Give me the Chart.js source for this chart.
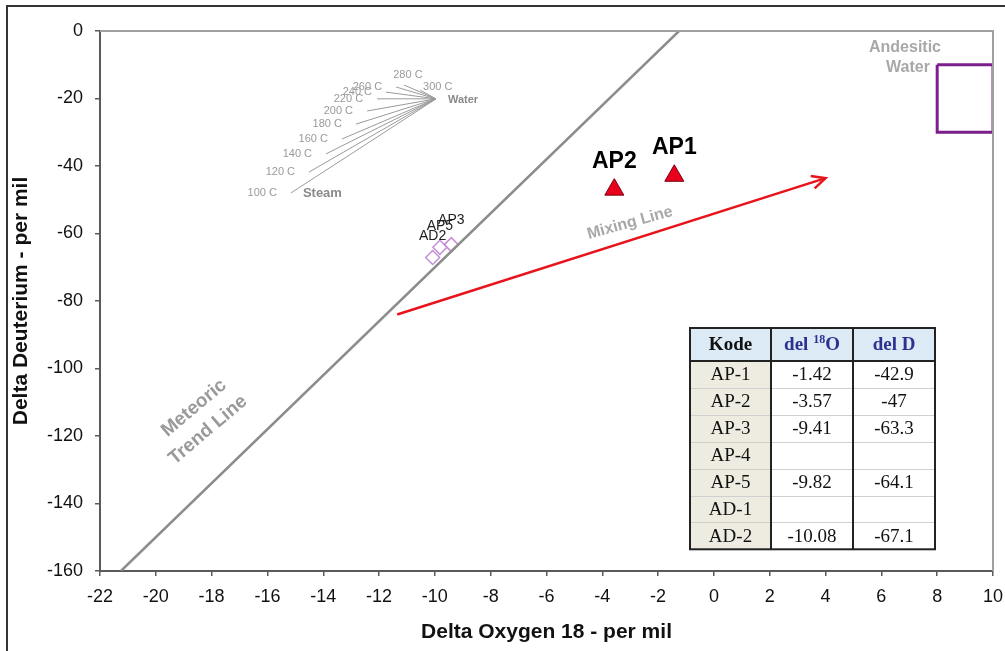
<!DOCTYPE html>
<html>
<head>
<meta charset="utf-8">
<script src="https://cdn.jsdelivr.net/npm/chart.js@4.4.1/dist/chart.umd.min.js"></script>
<style>
  html, body { margin: 0; padding: 0; background: #fff; }
  #wrap { width: 1005px; height: 651px; position: relative; }
</style>
</head>
<body>
<div id="wrap"><canvas id="myChart"></canvas></div>
<script>
const ctx = document.getElementById('myChart');

// samples
const sampleNames = ['AP1', 'AP2'];
const sampleO18 = [-1.42, -3.57];
const sampleD = [-42.9, -47];

const nearNames = ['AP3', 'AP5', 'AD2'];
const nearO18 = [-9.41, -9.82, -10.08];
const nearD = [-63.3, -64.1, -67.1];

// reference lines
const meteoricO18 = [-21.25, -1.25];
const meteoricD = [-160, 0];

const mixingO18 = [-11.35, 4.0];
const mixingD = [-84.0, -43.6];

const andesiticO18 = [8, 10, 10, 8, 8];
const andesiticD = [-10, -10, -30, -30, -10];

// steam / water separation fan
const waterO18 = -9.96;
const waterD = -20.1;
const steamTemps = ['100 C', '120 C', '140 C', '160 C', '180 C', '200 C', '220 C', '240 C', '260 C', '280 C', '300 C'];
const steamO18 = [-15.16, -14.51, -13.90, -13.33, -12.83, -12.43, -12.07, -11.75, -11.39, -11.11, -10.53];
const steamD = [-48.0, -41.8, -36.4, -32.0, -27.6, -23.7, -20.1, -18.1, -16.6, -16.0, -17.5];

// table
const tableHead = ['Kode', 'del 18O', 'del D'];
const tableCodes = ['AP-1', 'AP-2', 'AP-3', 'AP-4', 'AP-5', 'AD-1', 'AD-2'];
const tableO18 = ['-1.42', '-3.57', '-9.41', '', '-9.82', '', '-10.08'];
const tableD = ['-42.9', '-47', '-63.3', '', '-64.1', '', '-67.1'];

const SANS = '"Liberation Sans", Arial, sans-serif';
const SERIF = '"Liberation Serif", "Times New Roman", serif';

function pts(xs, ys) {
  return xs.map((v, i) => ({ x: v, y: ys[i] }));
}

// label offsets for the fan (px), kept apart from the data
const steamLabelPos = steamTemps.map((t, i) => {
  if (i === 9) return { dx: 4, dy: -10, align: 'center' };
  if (i === 10) return { dx: 3, dy: -3, align: 'left' };
  return { dx: -14, dy: 0, align: 'right' };
});

const steamSets = steamO18.map((v, i) => ({
  data: [{ x: v, y: steamD[i] }, { x: waterO18, y: waterD }],
  showLine: true,
  borderColor: '#9a9a9a',
  borderWidth: 1,
  pointRadius: 0
}));

function text(c, s, x, y, font, color, align, rot) {
  c.save();
  c.translate(x, y);
  if (rot) c.rotate(rot);
  c.font = font;
  c.fillStyle = color;
  c.textAlign = align || 'center';
  c.textBaseline = 'middle';
  c.fillText(s, 0, 0);
  c.restore();
}

const extras = {
  id: 'extras',
  afterDatasetsDraw(chart) {
    const c = chart.ctx;
    const { x, y } = chart.scales;
    const a = chart.chartArea;
    c.save();

    // top / right frame of plot
    c.strokeStyle = '#a0a0a0';
    c.lineWidth = 2;
    c.beginPath();
    c.moveTo(a.left, a.top);
    c.lineTo(a.right, a.top);
    c.lineTo(a.right, a.bottom);
    c.stroke();

    // arrow head on mixing line
    const x0 = x.getPixelForValue(mixingO18[0]), y0 = y.getPixelForValue(mixingD[0]);
    const x1 = x.getPixelForValue(mixingO18[1]), y1 = y.getPixelForValue(mixingD[1]);
    const ang = Math.atan2(y1 - y0, x1 - x0);
    c.strokeStyle = '#e8141c';
    c.lineWidth = 2.5;
    c.beginPath();
    c.moveTo(x1 - 15 * Math.cos(ang - 0.45), y1 - 15 * Math.sin(ang - 0.45));
    c.lineTo(x1, y1);
    c.lineTo(x1 - 15 * Math.cos(ang + 0.45), y1 - 15 * Math.sin(ang + 0.45));
    c.stroke();

    // fan labels
    steamTemps.forEach((t, i) => {
      const p = steamLabelPos[i];
      text(c, t, x.getPixelForValue(steamO18[i]) + p.dx, y.getPixelForValue(steamD[i]) + p.dy,
        '11px ' + SANS, '#9a9a9a', p.align);
    });
    text(c, 'Water', x.getPixelForValue(waterO18) + 12, y.getPixelForValue(waterD) + 1,
      'bold 11px ' + SANS, '#8a8a8a', 'left');
    text(c, 'Steam', x.getPixelForValue(steamO18[0]) + 12, y.getPixelForValue(steamD[0]),
      'bold 13px ' + SANS, '#8a8a8a', 'left');

    // sample labels
    sampleNames.forEach((n, i) => {
      text(c, n, x.getPixelForValue(sampleO18[i]), y.getPixelForValue(sampleD[i]) - 28,
        'bold 23px ' + SANS, '#000', 'center');
    });
    nearNames.forEach((n, i) => {
      text(c, n, x.getPixelForValue(nearO18[i]), y.getPixelForValue(nearD[i]) - (i === 0 ? 24 : 21),
        '14px ' + SANS, '#222', 'center');
    });

    // line captions
    text(c, 'Mixing Line', 630, 223, 'bold 16px ' + SANS, '#a8a8a8', 'center', -0.27);
    text(c, 'Meteoric', 194, 408, 'bold 19px ' + SANS, '#9a9a9a', 'center', -0.7);
    text(c, 'Trend Line', 208, 430, 'bold 19px ' + SANS, '#9a9a9a', 'center', -0.7);
    text(c, 'Andesitic', 905, 48, 'bold 16px ' + SANS, '#a8a8a8', 'center');
    text(c, 'Water', 908, 68, 'bold 16px ' + SANS, '#a8a8a8', 'center');

    // data table
    const tl = 690, tt = 328, cw = [81, 82, 82], hh = 33, rh = 26.9;
    const tw = cw[0] + cw[1] + cw[2];
    const th = hh + rh * tableCodes.length;
    c.fillStyle = '#fff';
    c.fillRect(tl, tt, tw, th);
    c.fillStyle = '#dbeaf4';
    c.fillRect(tl, tt, tw, hh);
    c.fillStyle = '#eeebe1';
    c.fillRect(tl, tt + hh, cw[0], th - hh);
    c.strokeStyle = '#d0d0d0';
    c.lineWidth = 1;
    for (let r = 1; r < tableCodes.length; r++) {
      const yy = Math.round(tt + hh + rh * r) + 0.5;
      c.beginPath();
      c.moveTo(tl, yy);
      c.lineTo(tl + tw, yy);
      c.stroke();
    }
    c.strokeStyle = '#222';
    c.lineWidth = 2;
    c.strokeRect(tl, tt, tw, th);
    c.beginPath();
    c.moveTo(tl, tt + hh);
    c.lineTo(tl + tw, tt + hh);
    c.moveTo(tl + cw[0], tt);
    c.lineTo(tl + cw[0], tt + th);
    c.moveTo(tl + cw[0] + cw[1], tt);
    c.lineTo(tl + cw[0] + cw[1], tt + th);
    c.stroke();

    const cx = [tl + cw[0] / 2, tl + cw[0] + cw[1] / 2, tl + cw[0] + cw[1] + cw[2] / 2];
    const hy = tt + hh / 2 + 1;
    text(c, tableHead[0], cx[0], hy, 'bold 19px ' + SERIF, '#111', 'center');
    // del 18O with superscript
    c.font = 'bold 19px ' + SERIF;
    const wa = c.measureText('del ').width;
    const wc = c.measureText('O').width;
    c.font = 'bold 12px ' + SERIF;
    const wb = c.measureText('18').width;
    let sx = cx[1] - (wa + wb + wc) / 2;
    text(c, 'del ', sx, hy, 'bold 19px ' + SERIF, '#2e3192', 'left');
    text(c, '18', sx + wa, hy - 6, 'bold 12px ' + SERIF, '#2e3192', 'left');
    text(c, 'O', sx + wa + wb, hy, 'bold 19px ' + SERIF, '#2e3192', 'left');
    text(c, tableHead[2], cx[2], hy, 'bold 19px ' + SERIF, '#2e3192', 'center');
    tableCodes.forEach((k, r) => {
      const ry = tt + hh + rh * r + rh / 2 + 1;
      text(c, k, cx[0], ry, '19px ' + SERIF, '#111', 'center');
      text(c, tableO18[r], cx[1], ry, '19px ' + SERIF, '#111', 'center');
      text(c, tableD[r], cx[2], ry, '19px ' + SERIF, '#111', 'center');
    });

    // outer frame of the figure
    c.strokeStyle = '#333';
    c.lineWidth = 2;
    c.strokeRect(7, 6, 1010, 700);
    c.restore();
  }
};

function noPad(s) {
  s.paddingLeft = 0;
  s.paddingRight = 0;
  s.paddingTop = 0;
  s.paddingBottom = 0;
}

new Chart(ctx, {
  type: 'scatter',
  data: {
    datasets: [
      ...steamSets,
      {
        data: pts(meteoricO18, meteoricD),
        showLine: true,
        borderColor: '#8c8c8c',
        borderWidth: 2.5,
        pointRadius: 0
      },
      {
        data: pts(mixingO18, mixingD),
        showLine: true,
        borderColor: '#e8141c',
        borderWidth: 2.5,
        pointRadius: 0
      },
      {
        data: pts(andesiticO18, andesiticD),
        showLine: true,
        borderColor: '#7b1f8c',
        borderWidth: 3,
        pointRadius: 0
      },
      {
        data: pts(nearO18, nearD),
        pointStyle: 'rectRot',
        pointRadius: 7,
        backgroundColor: 'rgba(255,255,255,0)',
        borderColor: '#c48fd8',
        borderWidth: 1.5
      },
      {
        data: pts(sampleO18, sampleD),
        pointStyle: 'triangle',
        pointRadius: 11,
        backgroundColor: '#e8001c',
        borderColor: '#7a0010',
        borderWidth: 1
      }
    ]
  },
  options: {
    responsive: true,
    maintainAspectRatio: false,
    animation: false,
    layout: { padding: { left: 8, top: 31, right: 12, bottom: 0 } },
    plugins: {
      legend: { display: false },
      tooltip: { enabled: false }
    },
    scales: {
      x: {
        type: 'linear',
        min: -22,
        max: 10,
        afterFit(s) { s.height = 80; noPad(s); },
        ticks: { stepSize: 2, padding: 10, color: '#111', font: { family: SANS, size: 18 } },
        grid: { drawOnChartArea: false, tickLength: 5, color: '#5a5a5a', lineWidth: 1.5 },
        border: { color: '#5a5a5a', width: 2 },
        title: {
          display: true,
          text: 'Delta Oxygen 18 - per mil',
          color: '#111',
          font: { family: SANS, size: 21, weight: 'bold' },
          padding: { top: 0, bottom: 6 }
        }
      },
      y: {
        type: 'linear',
        min: -160,
        max: 0,
        afterFit(s) { s.width = 92; noPad(s); },
        ticks: { stepSize: 20, padding: 12, color: '#111', font: { family: SANS, size: 18 } },
        grid: { drawOnChartArea: false, tickLength: 5, color: '#5a5a5a', lineWidth: 1.5 },
        border: { color: '#5a5a5a', width: 2 },
        title: {
          display: true,
          text: 'Delta Deuterium - per mil',
          color: '#111',
          font: { family: SANS, size: 21, weight: 'bold' },
          padding: { top: 1, bottom: 0 }
        }
      }
    }
  },
  plugins: [extras]
});
</script>
</body>
</html>
